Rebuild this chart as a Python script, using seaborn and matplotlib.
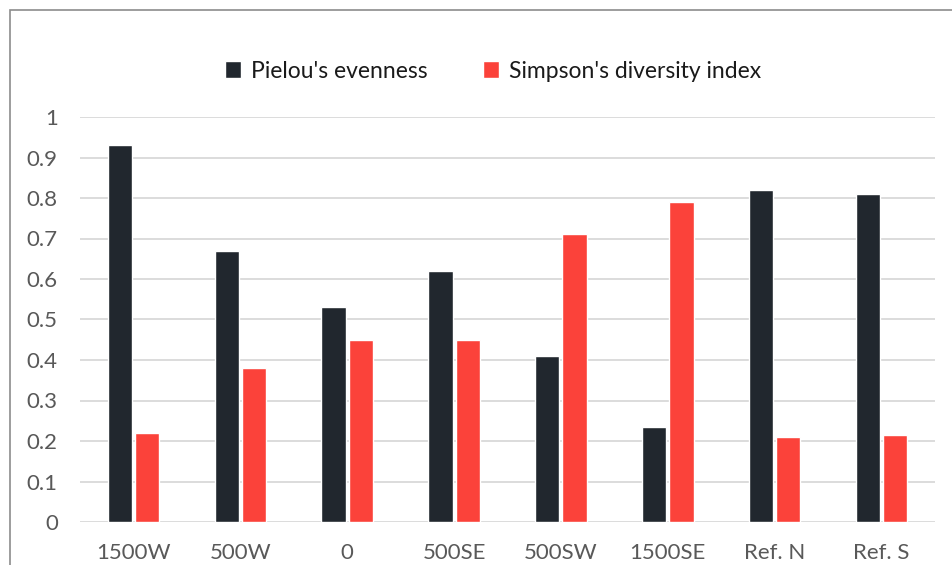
import matplotlib
matplotlib.use("Agg")
import matplotlib.pyplot as plt
from matplotlib.patches import Rectangle
from matplotlib.ticker import FuncFormatter, MultipleLocator
import seaborn as sns
import pandas as pd

# Sampling sites and diversity indices
sites = ["1500W", "500W", "0", "500SE", "500SW", "1500SE", "Ref. N", "Ref. S"]
pielou = [0.93, 0.67, 0.53, 0.62, 0.41, 0.235, 0.82, 0.81]
simpson = [0.22, 0.38, 0.45, 0.45, 0.71, 0.79, 0.21, 0.215]
series_names = ["Pielou's evenness", "Simpson's diversity index"]
colors = ["#21272E", "#FB423A"]

df = pd.DataFrame({
    "site": sites * 2,
    "value": pielou + simpson,
    "index": [series_names[0]] * len(sites) + [series_names[1]] * len(sites),
})

sns.set_theme(style="white")
plt.rcParams["font.family"] = ["Lato", "DejaVu Sans"]

fig = plt.figure(figsize=(9.52, 5.65), dpi=100)
ax = fig.add_axes([80 / 952, 1 - 522 / 565, (935 - 80) / 952, (522 - 117) / 565])

sns.barplot(data=df, x="site", y="value", hue="index", order=sites,
            hue_order=series_names, palette=colors, width=0.51, gap=0.11,
            saturation=1, ax=ax, legend=True)

ax.set_ylim(0, 1)
ax.set_xlim(-0.5, len(sites) - 0.5)
ax.yaxis.set_major_locator(MultipleLocator(0.1))
ax.yaxis.set_major_formatter(FuncFormatter(lambda v, _: f"{v:.1f}".rstrip("0").rstrip(".") if v else "0"))
ax.grid(axis="y", color="#D9D9D9", linewidth=1.3)
ax.set_axisbelow(True)
for s in ax.spines.values():
    s.set_visible(False)
ax.set_xlabel("")
ax.set_ylabel("")
ax.tick_params(axis="both", length=0, labelsize=16, labelcolor="#595959")
ax.tick_params(axis="y", pad=16)
ax.tick_params(axis="x", pad=15)

handles, labels = ax.get_legend_handles_labels()
ax.legend_.remove()
fig.legend(handles, labels, loc="center", bbox_to_anchor=(493 / 952, 1 - 71 / 565),
           ncol=2, frameon=False, fontsize=16.5, handlelength=0.7, handleheight=0.7,
           handletextpad=0.45, columnspacing=2.4, labelcolor="#1A1A1A")

# Chart frame
fig.add_artist(Rectangle((10 / 952, -0.05), 1.2, 1 - 10 / 565 + 0.05,
                         transform=fig.transFigure, fill=False,
                         edgecolor="#8C8C8C", linewidth=1.2))

fig.savefig("out.png", dpi=100)
